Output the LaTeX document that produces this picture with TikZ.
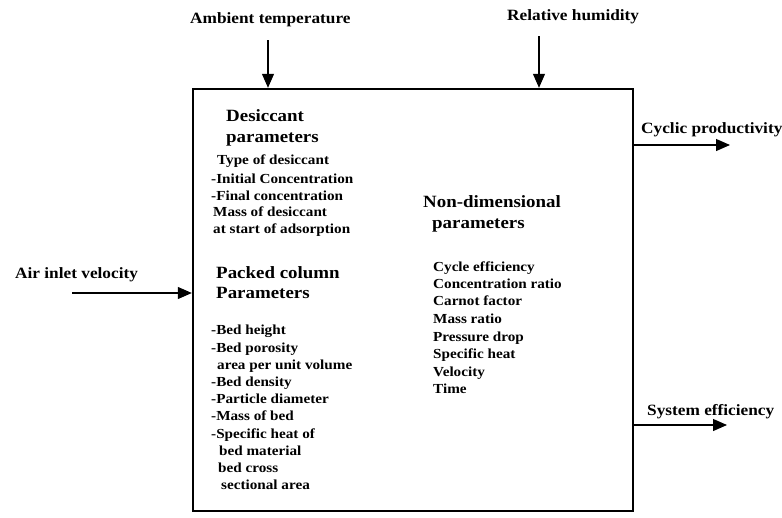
\documentclass[tikz,border=0pt]{standalone}
\usepackage{fontspec}
\setmainfont[FakeStretch=1.1]{Liberation Serif}
\usetikzlibrary{arrows.meta}
\begin{document}
\begin{tikzpicture}[x=1pt,y=-1pt,
  lbl/.style={anchor=base west,inner sep=0pt,font=\fontsize{15.7}{17}\bfseries\selectfont},
  head/.style={anchor=base west,inner sep=0pt,font=\fontsize{17.2}{19}\bfseries\selectfont},
  item/.style={anchor=base west,inner sep=0pt,font=\fontsize{13.8}{16}\bfseries\selectfont},
  arr/.style={line width=1.2pt,-{Triangle[length=14pt,width=12pt]}},
  frame/.style={draw,line width=2.4pt,minimum width=440pt,minimum height=422pt,inner sep=0pt}]
\useasboundingbox (0,0) rectangle (782,517);
% main box
\node[frame] (box) at (413,300) {};
% outside labels
\node[lbl] (amb) at (190,23) {Ambient temperature};
\node[lbl] (rh) at (507,20) {Relative humidity};
\node[lbl] (cyc) at (641,133) {Cyclic productivity};
\node[lbl] (sys) at (647,415) {System efficiency};
\node[lbl] (air) at (15,278) {Air inlet velocity};
% arrow ends
\coordinate (ambS) at (268,40);
\coordinate (rhS) at (539,36);
\coordinate (airS) at (72,293);
\coordinate (cycE) at (730,145);
\coordinate (sysE) at (727,425);
\draw[arr] (ambS) -- (ambS |- box.north);
\draw[arr] (rhS) -- (rhS |- box.north);
\draw[arr] (airS) -- (airS -| box.west);
\draw[arr] (cycE -| box.east) -- (cycE);
\draw[arr] (sysE -| box.east) -- (sysE);
% desiccant parameters
\node[head] (d1) at (226,121) {Desiccant};
\node[head] (d2) at (226,142) {parameters};
\node[item] (d3) at (217,164) {Type of desiccant};
\node[item] (d4) at (211,183) {-Initial Concentration};
\node[item] (d5) at (211,200) {-Final concentration};
\node[item] (d6) at (213,216) {Mass of desiccant};
\node[item] (d7) at (213,233) {at start of adsorption};
% packed column parameters
\node[head] (p1) at (216,278) {Packed column};
\node[head] (p2) at (216,298) {Parameters};
\node[item] (p3) at (211,334) {-Bed height};
\node[item] (p4) at (211,352) {-Bed porosity};
\node[item] (p5) at (217,369) {area per unit volume};
\node[item] (p6) at (211,386) {-Bed density};
\node[item] (p7) at (211,403) {-Particle diameter};
\node[item] (p8) at (211,420) {-Mass of bed};
\node[item] (p9) at (211,438) {-Specific heat of};
\node[item] (p10) at (219,455) {bed material};
\node[item] (p11) at (218,472) {bed cross};
\node[item] (p12) at (221,489) {sectional area};
% non-dimensional parameters
\node[head] (n1) at (423,207) {Non-dimensional};
\node[head] (n2) at (432,228) {parameters};
\node[item] (n3) at (433,271) {Cycle efficiency};
\node[item] (n4) at (433,288) {Concentration ratio};
\node[item] (n5) at (433,305) {Carnot factor};
\node[item] (n6) at (433,323) {Mass ratio};
\node[item] (n7) at (433,341) {Pressure drop};
\node[item] (n8) at (433,358) {Specific heat};
\node[item] (n9) at (433,376) {Velocity};
\node[item] (n10) at (433,393) {Time};
\end{tikzpicture}
\end{document}
